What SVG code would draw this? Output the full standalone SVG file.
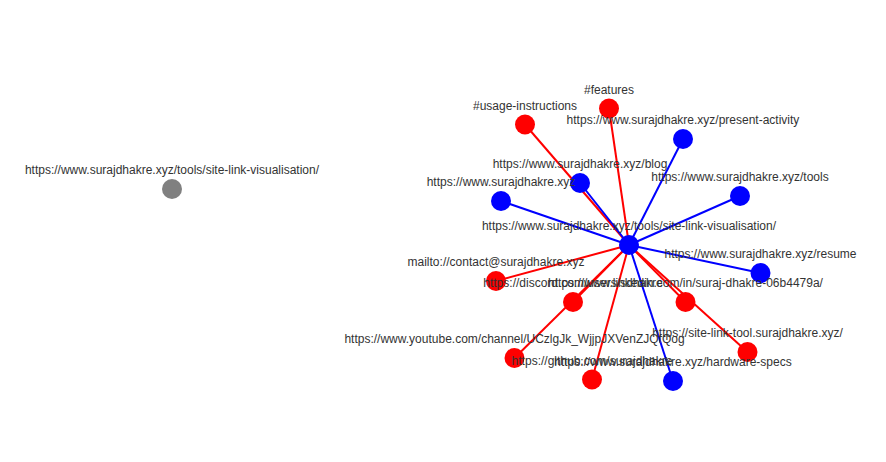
<svg xmlns="http://www.w3.org/2000/svg" width="886" height="462" viewBox="0 0 886 462">
<style>
.bg{fill:#ffffff}
.lr{stroke:#ff0000;stroke-width:2;fill:none}
.lb{stroke:#0000ff;stroke-width:2;fill:none}
.nr{fill:#ff0000}
.nb{fill:#0000ff}
.ng{fill:#808080}
text{font-family:"Liberation Sans",Arial,sans-serif;font-size:12px;fill:#333333;text-anchor:middle}
</style>
<rect class="bg" x="0" y="0" width="886" height="462"/>
<g id="connectors">
<line class="lr" x1="629" y1="245" x2="609" y2="108.5"/>
<line class="lr" x1="629" y1="245" x2="525" y2="124.5"/>
<line class="lb" x1="629" y1="245" x2="683" y2="139"/>
<line class="lb" x1="629" y1="245" x2="580" y2="183"/>
<line class="lb" x1="629" y1="245" x2="501" y2="201"/>
<line class="lb" x1="629" y1="245" x2="740" y2="196"/>
<line class="lb" x1="629" y1="245" x2="760.5" y2="273"/>
<line class="lr" x1="629" y1="245" x2="496" y2="281"/>
<line class="lr" x1="629" y1="245" x2="573" y2="302"/>
<line class="lr" x1="629" y1="245" x2="685.5" y2="302"/>
<line class="lr" x1="629" y1="245" x2="747.5" y2="352"/>
<line class="lr" x1="629" y1="245" x2="514.5" y2="358"/>
<line class="lr" x1="629" y1="245" x2="592" y2="379.5"/>
<line class="lb" x1="629" y1="245" x2="673" y2="381"/>
</g>
<g id="n-gray"><circle class="ng" cx="172" cy="189" r="10"/></g>
<g id="n-features"><circle class="nr" cx="609" cy="108.5" r="10"/></g>
<g id="n-usage"><circle class="nr" cx="525" cy="124.5" r="10"/></g>
<g id="n-present"><circle class="nb" cx="683" cy="139" r="10"/></g>
<g id="n-blog"><circle class="nb" cx="580" cy="183" r="10"/></g>
<g id="n-home"><circle class="nb" cx="501" cy="201" r="10"/></g>
<g id="n-tools"><circle class="nb" cx="740" cy="196" r="10"/></g>
<g id="n-resume"><circle class="nb" cx="760.5" cy="273" r="10"/></g>
<g id="n-mailto"><circle class="nr" cx="496" cy="281" r="10"/></g>
<g id="n-discord"><circle class="nr" cx="573" cy="302" r="10"/></g>
<g id="n-linkedin"><circle class="nr" cx="685.5" cy="302" r="10"/></g>
<g id="n-sitelinktool"><circle class="nr" cx="747.5" cy="352" r="10"/></g>
<g id="n-youtube"><circle class="nr" cx="514.5" cy="358" r="10"/></g>
<g id="n-github"><circle class="nr" cx="592" cy="379.5" r="10"/></g>
<g id="n-hardware"><circle class="nb" cx="673" cy="381" r="10"/></g>
<g id="n-center"><circle class="nb" cx="629" cy="245" r="10"/></g>
<g id="labels">
<text x="172" y="174">https://www.surajdhakre.xyz/tools/site-link-visualisation/</text>
<text x="609" y="93.5">#features</text>
<text x="525" y="109.5">#usage-instructions</text>
<text x="683" y="124">https://www.surajdhakre.xyz/present-activity</text>
<text x="580" y="168">https://www.surajdhakre.xyz/blog</text>
<text x="501" y="186">https://www.surajdhakre.xyz</text>
<text x="740" y="181">https://www.surajdhakre.xyz/tools</text>
<text x="760.5" y="258">https://www.surajdhakre.xyz/resume</text>
<text x="496" y="266">mailto://contact@surajdhakre.xyz</text>
<text x="573" y="287">https://discord.com/users/sdhakre</text>
<text x="685.5" y="287">https://www.linkedin.com/in/suraj-dhakre-06b4479a/</text>
<text x="747.5" y="337">https://site-link-tool.surajdhakre.xyz/</text>
<text x="514.5" y="343">https://www.youtube.com/channel/UCzlgJk_WjjpJXVenZJQfQog</text>
<text x="592" y="364.5">https://github.com/surajdhakre</text>
<text x="673" y="366">https://www.surajdhakre.xyz/hardware-specs</text>
<text x="629" y="230">https://www.surajdhakre.xyz/tools/site-link-visualisation/</text>
</g>
</svg>
